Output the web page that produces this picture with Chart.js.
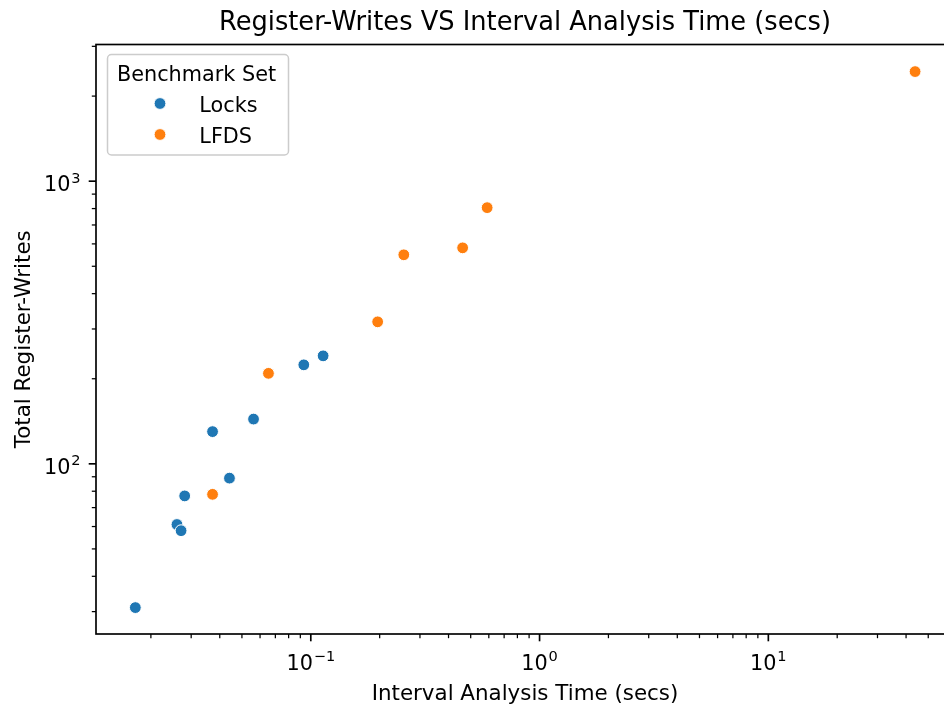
<!DOCTYPE html>
<html>
<head>
<meta charset="utf-8">
<title>Register-Writes VS Interval Analysis Time</title>
<script src="https://cdn.jsdelivr.net/npm/chart.js@4.4.1/dist/chart.umd.min.js"></script>
<style>
  html, body { margin: 0; padding: 0; background: #ffffff; overflow: hidden; }
  #wrap { width: 970px; height: 711px; }
</style>
</head>
<body>
<div id="wrap"><canvas id="chart" width="970" height="711"></canvas></div>
<script>
// Benchmark measurements: analysis time (secs) and total register-writes
const locksTime   = [0.0171, 0.0260, 0.0271, 0.0281, 0.0372, 0.0441, 0.0562, 0.0932, 0.1132];
const locksWrites = [31, 61, 58, 77, 130, 89, 144, 224, 241];
const lfdsTime    = [0.0372, 0.0653, 0.196, 0.255, 0.461, 0.590, 43.8];
const lfdsWrites  = [78, 209, 318, 549, 581, 806, 2442];

const seriesNames = ['Locks', 'LFDS'];
const seriesColors = ['#1f77b4', '#ff7f0e'];

// Axis bounds and labelled decades (base 10, exponent shown raised)
const xMin = 0.01151, xMax = 64.8;
const yMin = 25.0, yMax = 3045;
const xTickValues = [0.1, 1, 10];
const xTickExponents = ['\u22121', '0', '1'];
const yTickValues = [100, 1000];
const yTickExponents = ['2', '3'];

const FONT = "'DejaVu Sans', 'Liberation Sans', sans-serif";
const TICK_SIZE = 20.8;
const SUP_SIZE = TICK_SIZE * 0.7;

function toPoints(xs, ys) {
  return xs.map((v, i) => ({ x: v, y: ys[i] }));
}

// Draws "10" followed by a raised exponent; anchor is 'center' or 'right'
function drawPowerLabel(ctx, exp, x, baseline, anchor) {
  ctx.font = TICK_SIZE + 'px ' + FONT;
  const wBase = ctx.measureText('10').width;
  ctx.font = SUP_SIZE + 'px ' + FONT;
  const wExp = ctx.measureText(exp).width;
  const gap = 0.8;
  const total = wBase + gap + wExp;
  const left = anchor === 'center' ? x - total / 2 : x - total;
  ctx.textAlign = 'left';
  ctx.textBaseline = 'alphabetic';
  ctx.font = TICK_SIZE + 'px ' + FONT;
  ctx.fillText('10', left, baseline);
  ctx.font = SUP_SIZE + 'px ' + FONT;
  ctx.fillText(exp, left + wBase + gap, baseline - 8.6);
}

// Frame, tick marks, decade labels and the legend box
const decorations = {
  id: 'decorations',
  afterDatasetsDraw(chart) {
    const { ctx, chartArea: a, scales } = chart;
    ctx.save();
    ctx.strokeStyle = '#000000';
    ctx.lineCap = 'butt';

    const drawTicks = (scale, horizontal) => {
      const lo = Math.floor(Math.log10(scale.min));
      const hi = Math.ceil(Math.log10(scale.max));
      for (let d = lo; d <= hi; d++) {
        for (let m = 1; m <= 9; m++) {
          const v = m * Math.pow(10, d);
          if (v < scale.min || v > scale.max) continue;
          const p = scale.getPixelForValue(v);
          const major = m === 1;
          const len = major ? 7.3 : 4.2;
          ctx.lineWidth = major ? 1.67 : 1.25;
          ctx.beginPath();
          if (horizontal) {
            ctx.moveTo(p, a.bottom);
            ctx.lineTo(p, a.bottom + len);
          } else {
            ctx.moveTo(a.left, p);
            ctx.lineTo(a.left - len, p);
          }
          ctx.stroke();
        }
      }
    };
    drawTicks(scales.x, true);
    drawTicks(scales.y, false);

    ctx.fillStyle = '#000000';
    xTickValues.forEach((v, i) => {
      drawPowerLabel(ctx, xTickExponents[i], scales.x.getPixelForValue(v), a.bottom + 36, 'center');
    });
    yTickValues.forEach((v, i) => {
      drawPowerLabel(ctx, yTickExponents[i], a.left - 15.5, scales.y.getPixelForValue(v) + 10.2, 'right');
    });

    ctx.lineWidth = 1.67;
    ctx.lineJoin = 'miter';
    ctx.strokeStyle = '#000000';
    ctx.strokeRect(a.left, a.top, a.right - a.left, a.bottom - a.top);

    // legend
    const bx = 107.5, by = 54.5, bw = 181, bh = 100.5;
    ctx.beginPath();
    if (ctx.roundRect) ctx.roundRect(bx, by, bw, bh, 4); else ctx.rect(bx, by, bw, bh);
    ctx.fillStyle = 'rgba(255,255,255,0.8)';
    ctx.fill();
    ctx.lineWidth = 1.5;
    ctx.strokeStyle = '#cccccc';
    ctx.stroke();

    ctx.fillStyle = '#000000';
    ctx.font = '20.8px ' + FONT;
    ctx.textBaseline = 'alphabetic';
    ctx.textAlign = 'center';
    ctx.fillText('Benchmark Set', 196.5, 80.7);

    const rows = [111.7, 142.7];
    ctx.textAlign = 'left';
    seriesNames.forEach((name, i) => {
      const cy = rows[i] - 8.2;
      ctx.beginPath();
      ctx.arc(160, cy, 5.9, 0, Math.PI * 2);
      ctx.fillStyle = seriesColors[i];
      ctx.fill();
      ctx.lineWidth = 1;
      ctx.strokeStyle = '#ffffff';
      ctx.stroke();
      ctx.fillStyle = '#000000';
      ctx.fillText(name, 199.3, rows[i]);
    });
    ctx.restore();
  }
};

new Chart(document.getElementById('chart'), {
  type: 'scatter',
  data: {
    datasets: [
      {
        label: seriesNames[0],
        data: toPoints(locksTime, locksWrites),
        backgroundColor: seriesColors[0],
        borderColor: '#ffffff',
        borderWidth: 1,
        pointRadius: 5.9,
        pointHoverRadius: 5.9
      },
      {
        label: seriesNames[1],
        data: toPoints(lfdsTime, lfdsWrites),
        backgroundColor: seriesColors[1],
        borderColor: '#ffffff',
        borderWidth: 1,
        pointRadius: 5.9,
        pointHoverRadius: 5.9
      }
    ]
  },
  options: {
    responsive: false,
    animation: false,
    devicePixelRatio: 1,
    events: [],
    layout: { padding: { left: 0, right: 16, top: 0, bottom: 0 } },
    plugins: {
      legend: { display: false },
      tooltip: { enabled: false },
      title: {
        display: true,
        text: 'Register-Writes VS Interval Analysis Time (secs)',
        fullSize: false,
        color: '#000000',
        font: { family: FONT, size: 25.7, weight: 'normal', lineHeight: 1.2 },
        padding: { top: 8.2, bottom: 5.46 }
      }
    },
    scales: {
      x: {
        type: 'logarithmic',
        position: 'bottom',
        bounds: 'data',
        min: xMin,
        max: xMax,
        afterBuildTicks: (s) => { s.ticks = xTickValues.map(v => ({ value: v })); },
        afterFit: (s) => { s.height = 77; },
        grid: { display: false, drawTicks: false },
        border: { display: false },
        ticks: { display: false },
        title: {
          display: true,
          text: 'Interval Analysis Time (secs)',
          color: '#000000',
          font: { family: FONT, size: 21.4 },
          padding: { top: 0, bottom: 3.26 }
        }
      },
      y: {
        type: 'logarithmic',
        position: 'left',
        bounds: 'data',
        min: yMin,
        max: yMax,
        afterBuildTicks: (s) => { s.ticks = yTickValues.map(v => ({ value: v })); },
        afterFit: (s) => { s.width = 96; },
        grid: { display: false, drawTicks: false },
        border: { display: false },
        ticks: { display: false },
        title: {
          display: true,
          text: 'Total Register-Writes',
          color: '#000000',
          font: { family: FONT, size: 21.4 },
          padding: { top: 11.26, bottom: 0 }
        }
      }
    }
  },
  plugins: [decorations]
});
</script>
</body>
</html>
